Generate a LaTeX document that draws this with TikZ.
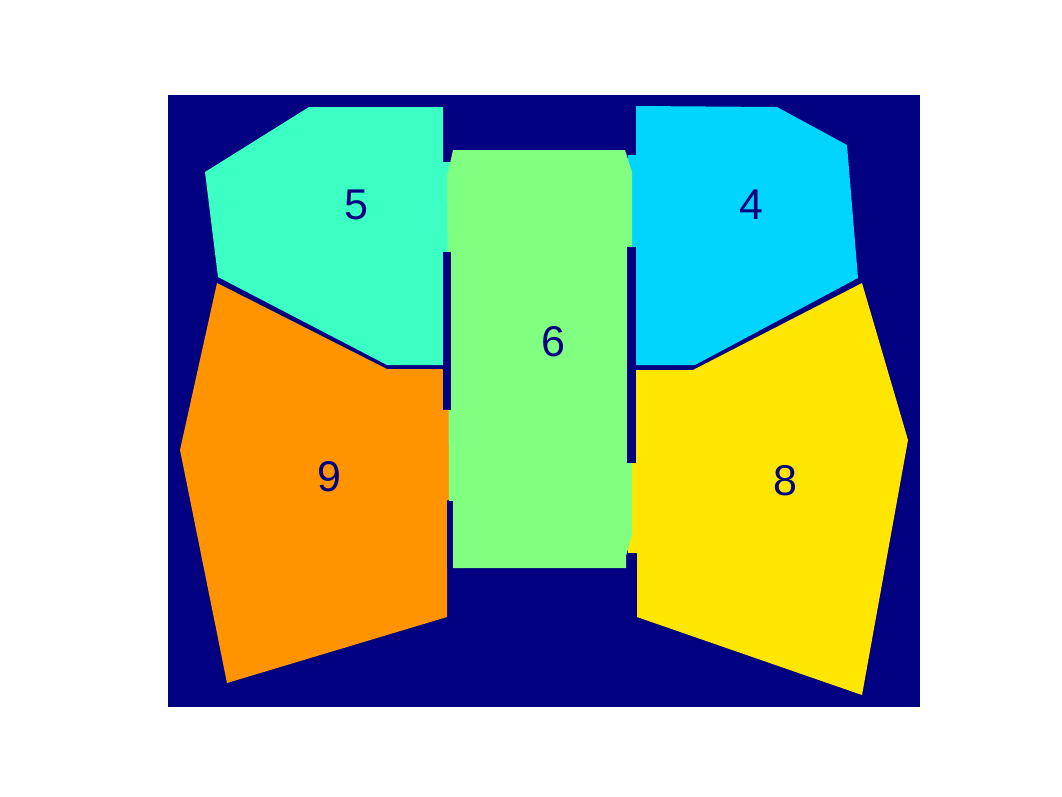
\documentclass[tikz,border=0pt]{standalone}
\usepackage{fontspec}
\newfontfamily\labelfont{Liberation Sans}
\definecolor{bgnavy}{HTML}{000080}
\definecolor{segA}{HTML}{3CFFC3}
\definecolor{segB}{HTML}{00D4FF}
\definecolor{segC}{HTML}{80FF80}
\definecolor{segD}{HTML}{FF9400}
\definecolor{segE}{HTML}{FFE600}
\begin{document}
\begin{tikzpicture}[
      x=1pt, y=-1pt,
      region/.style={draw=none},
      gap/.style={fill=bgnavy, draw=none},
      segnum/.style={text=bgnavy, font=\labelfont\fontsize{43}{43}\selectfont, inner sep=0pt}
    ]
    \useasboundingbox (0,0) rectangle (1062,796);
    \fill[bgnavy] (168,95) rectangle (920,707);

    % outer regions
    \fill[region, segA] (309,107) -- (443,107) -- (443,162) -- (452,162) -- (452,252)
      -- (443,252) -- (443,365) -- (387,365) -- (218,277) -- (205,172) -- cycle;
    \fill[region, segB] (636,106) -- (777,107) -- (847,145) -- (858,278) -- (695,365)
      -- (636,365) -- (636,247) -- (628,247) -- (628,155) -- (636,155) -- cycle;
    \fill[region, segD] (217,283) -- (387,369) -- (444,369) -- (444,410) -- (452,410)
      -- (452,500) -- (447,500) -- (447,617) -- (227,683) -- (180,450) -- cycle;
    \fill[region, segE] (693,370) -- (862,283) -- (908,440) -- (862,695) -- (637,617)
      -- (637,553) -- (628,553) -- (628,463) -- (636,463) -- (636,370) -- cycle;

    % middle region
    \fill[region, segC] (453,150) -- (625,150) -- (632,172) -- (632,535) -- (626,556)
      -- (626,568) -- (453,568) -- (450,555) -- (449,500) -- (448,290) -- (447,177) -- cycle;

    % boundary gaps
    \fill[gap] (443,252) rectangle (451,410);
    \fill[gap] (447,501) rectangle (453,568);
    \fill[gap] (627,247) rectangle (636,463);
    \fill[gap] (627,553) rectangle (636,570);
    \fill[gap] (627,150) rectangle (636,155);

    % labels
    \node[segnum] (n5) at (356,205) {5};
    \node[segnum] (n4) at (751,205) {4};
    \node[segnum] (n6) at (553,342) {6};
    \node[segnum] (n9) at (329,477) {9};
    \node[segnum] (n8) at (785,481) {8};
  \end{tikzpicture}
\end{document}
